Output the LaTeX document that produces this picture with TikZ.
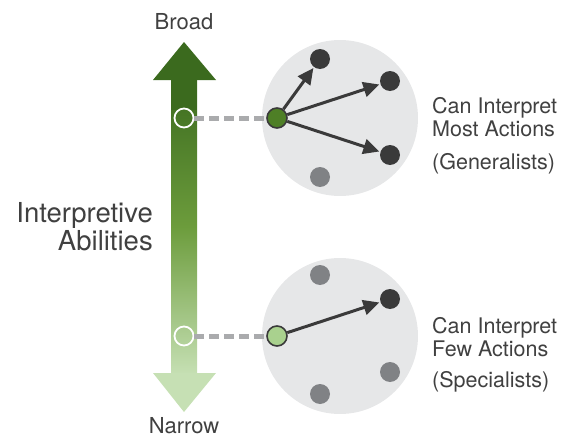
\documentclass[tikz,border=0pt]{standalone}
\usepackage{fontspec}
\setmainfont{TeX Gyre Heros}
\usetikzlibrary{arrows.meta}
\definecolor{txt}{HTML}{404040}
\definecolor{gdark}{HTML}{3B6A1E}
\definecolor{gmid}{HTML}{6C9C3C}
\definecolor{glight}{HTML}{C6E0B4}
\definecolor{disc}{HTML}{E6E7E8}
\definecolor{dotdark}{HTML}{3A3A3A}
\definecolor{dotgray}{HTML}{808285}
\definecolor{dashc}{HTML}{AAABAD}
\definecolor{nodeg}{HTML}{4E7F26}
\definecolor{nodel}{HTML}{A9D18E}
\tikzset{
  disk/.style={circle, fill=disc, minimum size=156pt, inner sep=0pt},
  dkdot/.style={circle, fill=dotdark, minimum size=20pt, inner sep=0pt},
  grdot/.style={circle, fill=dotgray, minimum size=20pt, inner sep=0pt},
  srcdot/.style={circle, draw=dotdark, line width=1.6pt, minimum size=20pt, inner sep=0pt},
  marker/.style={circle, draw=white, line width=1.8pt, minimum size=19pt, inner sep=0pt},
  conn/.style={draw=dashc, line width=5pt, dash pattern=on 10pt off 5pt},
  ptr/.style={draw=dotdark, line width=3pt, -{Triangle[length=16pt,width=15pt]}, shorten >=1pt},
  lab/.style={text=txt, font=\fontsize{21.5}{23}\selectfont, align=left, anchor=west, inner sep=0pt},
}
\begin{document}
\begin{tikzpicture}[x=1pt,y=-1pt]
\useasboundingbox (0,0) rectangle (574,439);
% shaft
\shade[top color=gdark, bottom color=glight, middle color=gmid] (171,78) rectangle (197,375);
\fill[gdark] (171,79) rectangle (197,110);
\fill[gdark] (153,80) -- (184,42) -- (216,80) -- cycle;
\fill[glight] (153,373) -- (216,373) -- (184,412) -- cycle;
% markers
\node[marker] (m1) at (184,118) {};
\node[marker] (m2) at (184,336) {};
% disks
\node[disk] (d1) at (340,118) {};
\node[disk] (d2) at (340,336) {};
% upper
\node[srcdot, fill=nodeg] (s1) at (277,118) {};
\node[dkdot] (a1) at (320,59) {};
\node[dkdot] (a2) at (390,81) {};
\node[dkdot] (a3) at (390,155) {};
\node[grdot] (a4) at (320,177) {};
\draw[conn] (m1) -- (s1);
\draw[ptr] (s1) -- (a1);
\draw[ptr] (s1) -- (a2);
\draw[ptr] (s1) -- (a3);
% lower
\node[srcdot, fill=nodel] (s2) at (277,336) {};
\node[dkdot] (b1) at (390,299) {};
\node[grdot] (b2) at (320,275) {};
\node[grdot] (b3) at (390,372) {};
\node[grdot] (b4) at (320,394) {};
\draw[conn] (m2) -- (s2);
\draw[ptr] (s2) -- (b1);
% labels
\node[text=txt, font=\fontsize{22}{24}\selectfont] (broad) at (184,22) {Broad};
\node[text=txt, font=\fontsize{22}{24}\selectfont] (narrow) at (184,426) {Narrow};
\node[text=txt, font=\fontsize{27.5}{28}\selectfont, align=right, anchor=east, inner sep=0pt] (ia) at (153,227) {Interpretive\\Abilities};
\node[lab] (t1) at (432,117) {Can Interpret\\Most Actions};
\node[lab] (t1b) at (432,164) {(Generalists)};
\node[lab] (t2) at (432,337) {Can Interpret\\Few Actions};
\node[lab] (t2b) at (432,382) {(Specialists)};
\end{tikzpicture}
\end{document}
